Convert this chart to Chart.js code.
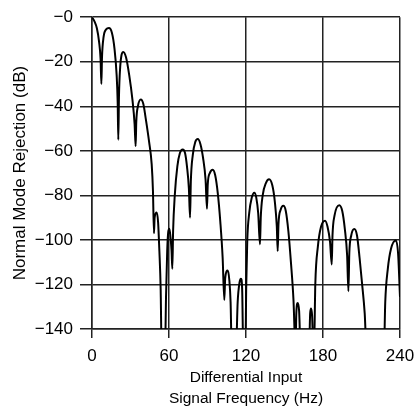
<!DOCTYPE html>
<html>
<head>
<meta charset="utf-8">
<script src="https://cdn.jsdelivr.net/npm/chart.js@4/dist/chart.umd.min.js"></script>
<style>
    html, body { margin: 0; padding: 0; background: #fff; }
    #wrap { width: 414px; height: 411px; }
</style>
</head>
<body>
<div id="wrap"><canvas id="myChart"></canvas></div>
<script>
// Values (Hz, dB). Points below -140 are clipped notches.
const freqHz = [
    0, 2, 3.8, 5.5, 6.7, 7.3,
    7.8, 9, 11, 13.2, 15.5, 17.5, 19.2, 20, 20.5,
    21, 22, 23, 24.4, 26.5, 29, 31.5, 33.2, 34,
    34.5, 35.8, 38, 40, 42, 44.5, 46.5, 47.5, 48.3,
    48.8, 50.4, 51.5, 52.5, 53.5, 54.3,
    56.9, 57.7, 58.6, 59.5, 60.3, 61.2, 62, 62.6,
    63.2, 64.5, 66.5, 68.5, 70.7, 72.5, 74, 75.5, 76.4,
    77, 78.5, 80.5, 82.4, 84.5, 86.5, 88.5, 89.6,
    90.2, 91.8, 94.1, 96, 98, 100, 101.8, 103.1,
    103.8, 105.8, 107, 108, 108.9,
    112.2, 113.5, 115, 116.1, 117, 117.9,
    119.5, 120.2, 121, 122.5, 124.5, 126.5, 128, 129.5, 130.9,
    131.5, 133, 135.5, 138, 140.5, 142.5, 144, 144.7,
    145.3, 147, 149.1, 151, 153, 155, 157, 158.6,
    159.2, 160.3, 161.4, 162.6,
    169.1, 170, 170.7, 171.5, 172.5,
    173, 174, 176, 178.5, 181.6, 183.5, 185.5, 186.8,
    187.4, 189, 192.7, 195, 197, 198.8, 199.8,
    200.5, 202, 204.4, 206.5, 208.5, 210.5, 212.5, 214,
    227.5, 228.5, 230.5, 233, 236.7, 238.5, 240
];
const rejectionDb = [
    0, -2, -5, -11, -19, -30,
    -18, -9, -5.5, -4.9, -7, -14, -26, -38, -55,
    -36, -22, -17, -15.6, -18, -26, -37, -48, -58,
    -47, -40, -37, -39, -46, -56, -66, -78, -97,
    -90, -87.7, -92, -105, -122, -150,
    -150, -125, -105, -96, -95, -99, -105, -113,
    -96, -80, -67, -61, -59.4, -61, -67, -77, -90,
    -74, -62, -56, -54.7, -57, -63, -73, -86,
    -75, -70, -68.5, -71, -79, -92, -108, -127,
    -117, -113.7, -118, -128, -150,
    -150, -128, -119, -117.4, -122, -150,
    -150, -120, -100, -88, -81, -78.8, -81, -88, -102,
    -90, -80, -74.5, -72.8, -75.5, -83, -94, -105,
    -93, -86.5, -84.7, -87, -96, -110, -127, -150,
    -133, -128.3, -132, -150,
    -150, -133, -130.8, -134, -150,
    -150, -120, -103, -94, -91.4, -94, -101, -111,
    -98, -89, -84.4, -87, -95, -107, -123,
    -106, -98, -95.1, -98, -108, -120, -133, -150,
    -150, -128, -113, -104, -100.3, -106, -125.6
];
const xTicks = [0, 60, 120, 180, 240];
const yTicks = [0, -20, -40, -60, -80, -100, -120, -140];

const fontFamily = '"Liberation Sans", Arial, Helvetica, sans-serif';
const gridColor = '#222';

const ctx = document.getElementById('myChart').getContext('2d');
const myChart = new Chart(ctx, {
    type: 'line',
    data: {
        datasets: [{
            data: freqHz.map((f, i) => ({ x: f, y: rejectionDb[i] })),
            borderColor: '#000',
            borderWidth: 2,
            pointRadius: 0,
            fill: false,
            cubicInterpolationMode: 'monotone',
            clip: 0
        }]
    },
    options: {
        responsive: true,
        maintainAspectRatio: false,
        animation: false,
        layout: { padding: { top: 16, right: 14, left: 0, bottom: 0 } },
        plugins: { legend: { display: false }, tooltip: { enabled: false } },
        scales: {
            x: {
                type: 'linear',
                min: 0,
                max: 240,
                afterBuildTicks: axis => { axis.ticks = xTicks.map(v => ({ value: v })); },
                afterFit: axis => {
                    axis.height = 82;
                    axis.paddingLeft = 0;
                    axis.paddingRight = 0;
                },
                ticks: { font: { family: fontFamily, size: 17 }, color: '#000', padding: 8 },
                grid: { color: gridColor, lineWidth: 1.5, tickLength: 9 },
                border: { color: gridColor, width: 1.5 },
                title: {
                    display: true,
                    text: ['Differential Input', 'Signal Frequency (Hz)'],
                    font: { family: fontFamily, size: 15.5, lineHeight: 1.35 },
                    color: '#000',
                    padding: { top: 4, bottom: 2 }
                }
            },
            y: {
                min: -140,
                max: 0,
                afterBuildTicks: axis => { axis.ticks = yTicks.map(v => ({ value: v })); },
                afterFit: axis => { axis.width = 92; },
                ticks: {
                    font: { family: fontFamily, size: 17 },
                    color: '#000',
                    padding: 7,
                    callback: v => '\u2212' + Math.abs(v)
                },
                grid: { color: gridColor, lineWidth: 1.5, tickLength: 12 },
                border: { color: gridColor, width: 1.5 },
                title: {
                    display: true,
                    text: 'Normal Mode Rejection (dB)',
                    font: { family: fontFamily, size: 17 },
                    color: '#000',
                    padding: { top: 10.5, bottom: 0 }
                }
            }
        }
    }
});
</script>
</body>
</html>
